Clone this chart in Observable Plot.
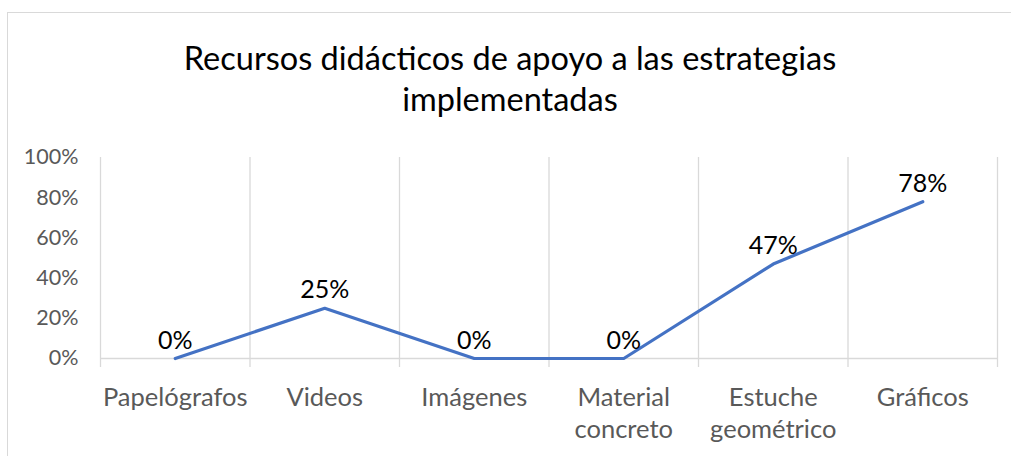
<!DOCTYPE html>
<html>
<head>
<meta charset="utf-8">
<script src="https://cdn.jsdelivr.net/npm/d3@7"></script>
<script src="https://cdn.jsdelivr.net/npm/@observablehq/plot@0.6"></script>
<style>
  html, body { margin: 0; padding: 0; background: #fff; }
  #wrap { position: relative; width: 1011px; height: 456px; overflow: hidden; font-family: Lato, sans-serif; }
  #frame { position: absolute; left: 7px; top: 12px; width: 1100px; height: 500px; border-top: 1px solid #d9d9d9; border-left: 1px solid #d9d9d9; }
  #title { position: absolute; left: 10px; width: 1000px; top: 37px; text-align: center; font-size: 32.5px; line-height: 41px; color: #000; }
  #plot { position: absolute; left: 0; top: 0; }
</style>
</head>
<body>
<div id="wrap">
  <div id="frame"></div>
  <div id="plot"></div>
  <div id="title">Recursos didácticos de apoyo a las estrategias<br>implementadas</div>
</div>
<script>
const categories = ["Papelógrafos", "Videos", "Imágenes", "Material\nconcreto", "Estuche\ngeométrico", "Gráficos"];
const values = [0, 0.25, 0, 0, 0.47, 0.78];
const valueLabels = ["0%", "25%", "0%", "0%", "47%", "78%"];
const yTicks = [0, 0.2, 0.4, 0.6, 0.8, 1.0];

const data = categories.map((c, i) => ({i, category: c, value: values[i], label: valueLabels[i]}));
const boundaries = d3.range(categories.length + 1).map(k => k - 0.5);

const chart = Plot.plot({
  width: 1011,
  height: 456,
  marginLeft: 100,
  marginRight: 14,
  marginTop: 157,
  marginBottom: 98,
  style: {fontFamily: "Lato, sans-serif", background: "transparent", overflow: "visible"},
  x: {type: "linear", domain: [-0.5, categories.length - 0.5], axis: null},
  y: {domain: [0, 1], axis: null},
  marks: [
    Plot.ruleX(boundaries, {x: d => d, y1: 1, y2: 0, stroke: "#d9d9d9", strokeWidth: 1.3, insetBottom: -9}),
    Plot.ruleY([0], {stroke: "#d9d9d9", strokeWidth: 1.3}),
    Plot.text(yTicks, {x: -0.5, y: d => d, text: d => d3.format(".0%")(d), textAnchor: "end", dx: -22, fill: "#595959", fontSize: 21.5}),
    Plot.text(data, {x: "i", y: 0, text: "category", lineAnchor: "top", dy: 24, lineHeight: 1.27, fill: "#595959", fontSize: 25.5}),
    Plot.line(data, {x: "i", y: "value", stroke: "#4472C4", strokeWidth: 3.2, strokeLinejoin: "round", strokeLinecap: "round"}),
    Plot.text(data, {x: "i", y: "value", text: "label", dy: -18, fill: "#000", fontSize: 25})
  ]
});
document.getElementById("plot").appendChild(chart);
</script>
</body>
</html>
